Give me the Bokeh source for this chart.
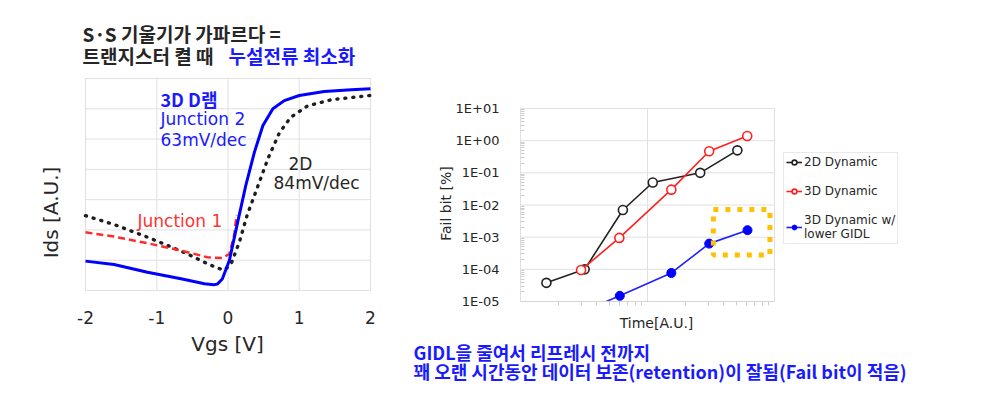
import math
from bokeh.plotting import figure
from bokeh.models import (Label, Legend, LegendItem, FixedTicker,
                          CustomJSTickFormatter, Range1d)
from bokeh.layouts import row
from bokeh.embed import file_html
from bokeh.resources import INLINE

# ---------------- left chart data (Ids vs Vgs, arbitrary units) ----------------
vgs_3d = [-2.0, -1.6, -1.13, -0.66, -0.33, -0.2, -0.15, -0.08, 0.02, 0.135, 0.25,
          0.37, 0.49, 0.63, 0.79, 1.0, 1.35, 1.73, 2.0]
ids_3d = [0.97, 0.86, 0.60, 0.39, 0.22, 0.19, 0.21, 0.38, 1.0, 2.25, 3.47,
          4.56, 5.45, 6.0, 6.27, 6.44, 6.57, 6.63, 6.66]

vgs_2d = [-2.0, -1.6, -1.13, -0.85, -0.57, -0.33, -0.15, -0.05, 0.04, 0.16, 0.27,
          0.42, 0.56, 0.72, 0.88, 1.12, 1.45, 2.0]
ids_2d = [2.47, 2.18, 1.76, 1.49, 1.21, 0.93, 0.74, 0.68, 0.86, 1.6, 2.5,
          3.45, 4.35, 5.2, 5.72, 6.1, 6.3, 6.44]

vgs_junction1 = [-2.0, -1.6, -1.13, -0.66, -0.29, -0.08, 0.02, 0.09, 0.12]
ids_junction1 = [1.92, 1.78, 1.56, 1.32, 1.1, 1.07, 1.21, 1.87, 2.5]

vgs_ticks = [-2, -1, 0, 1, 2]
vgs_tick_labels = ["-2", "-1", "0", "1", "2"]
ids_grid = [0, 1, 2, 3, 4, 5, 6, 7]

# ---------------- right chart data (Fail bit vs time) ----------------
time_2d = [1.6, 3.2, 6.4, 11.0, 26.0, 51.0]
fail_2d = [3.8e-5, 1.0e-4, 7.0e-3, 5.0e-2, 1.0e-1, 5.0e-1]

time_3d = [3.0, 6.0, 15.4, 30.6, 61.0]
fail_3d = [9.5e-5, 9.5e-4, 3.0e-2, 4.7e-1, 1.4]

time_3d_gidl = [3.0, 6.05, 15.4, 30.6, 61.3]
fail_3d_gidl = [4.6e-6, 1.5e-5, 7.7e-5, 6.3e-4, 1.65e-3]

fail_ticks = [1e-5, 1e-4, 1e-3, 1e-2, 1e-1, 1e0, 1e1]
fail_tick_labels = ["1E-05", "1E-04", "1E-03", "1E-02", "1E-01", "1E+00", "1E+01"]
time_ticks = [1, 10, 100]
legend_labels = ["2D Dynamic", "3D Dynamic", "3D Dynamic w/\nlower GIDL"]

highlight_time = [33.0, 92.0]
highlight_fail = [2.8e-4, 7.2e-3]

# ---------------- layout constants (page pixels) ----------------
KR = "Noto Sans CJK KR"
LAT = "DejaVu Sans"
BLUE_TXT = "#1a1aff"
DARK = "#262626"
GRID = "#e0e0e0"
EDGE = "#d4d4d4"

L_W, R_W, H = 405, 595, 400
L_ORIG = (0, 0)
R_ORIG = (L_W, 0)
# left chart area in page px
LX0, LX1, LY_TOP, LY_BOT = 85.0, 370.0, 78.0, 290.0
# right chart area in page px
RX0, RX1, RY_TOP, RY_BOT = 520.0, 774.0, 108.0, 301.0


def add_text(p, origin, x, y, text, size, color, font, bold=False,
             align="left", angle=0.0):
    p.add_layout(Label(x=x - origin[0], y=y - origin[1],
                       x_units="canvas", y_units="canvas",
                       text=text, text_font=font, text_font_size=f"{size}px",
                       text_color=color,
                       text_font_style="bold" if bold else "normal",
                       text_align=align, text_baseline="middle", angle=angle))


def base_fig(w, h, **kw):
    p = figure(frame_width=w, frame_height=h, min_border=0,
               min_border_left=0, min_border_right=0,
               min_border_top=0, min_border_bottom=0,
               output_backend="svg", toolbar_location=None,
               background_fill_color="white", border_fill_color="white",
               outline_line_color=None, **kw)
    p.grid.visible = False
    return p


# ================= left figure =================
sx = (LX1 - LX0) / (vgs_ticks[-1] - vgs_ticks[0])
sy = (LY_BOT - LY_TOP) / (ids_grid[-1] - ids_grid[0])
lx_range = Range1d(vgs_ticks[0] - (LX0 - L_ORIG[0]) / sx,
                   vgs_ticks[-1] + (L_ORIG[0] + L_W - LX1) / sx)
ly_range = Range1d(ids_grid[0] - (H - LY_BOT) / sy,
                   ids_grid[-1] + LY_TOP / sy)
pl = base_fig(L_W, H, x_range=lx_range, y_range=ly_range)
pl.yaxis.visible = False
pl.xaxis.fixed_location = ids_grid[0]
pl.xaxis.ticker = FixedTicker(ticks=vgs_ticks, minor_ticks=[])
pl.xaxis.formatter = CustomJSTickFormatter(
    args=dict(tick_values=vgs_ticks, tick_labels=vgs_tick_labels),
    code="""
    let best = 0, bd = 1e9;
    for (let i = 0; i < tick_values.length; i++) {
        const d = Math.abs(tick - tick_values[i]);
        if (d < bd) { bd = d; best = i; }
    }
    return tick_labels[best];
    """)
pl.xaxis.axis_line_color = None
pl.xaxis.major_tick_line_color = None
pl.xaxis.minor_tick_line_color = None
pl.xaxis.major_label_text_font = LAT
pl.xaxis.major_label_text_font_size = "17px"
pl.xaxis.major_label_text_color = DARK
pl.xaxis.major_label_standoff = 14

# grid of the left chart
pl.segment(x0=vgs_ticks[0], x1=vgs_ticks[-1], y0=ids_grid, y1=ids_grid,
           line_color=GRID, line_width=1)
pl.segment(x0=vgs_ticks, x1=vgs_ticks, y0=ids_grid[0], y1=ids_grid[-1],
           line_color=GRID, line_width=1)

pl.line(vgs_2d, ids_2d, line_color="#1e1e1e", line_width=3.4,
        line_dash="1 7", line_cap="round")
pl.line(vgs_junction1, ids_junction1, line_color="#ff2a2a", line_width=2.5,
        line_dash="7 4")
pl.line(vgs_3d, ids_3d, line_color="#0000ff", line_width=3)

add_text(pl, L_ORIG, 82, 33, "S·S 기울기가 가파르다 =", 19, DARK, KR, bold=True)
add_text(pl, L_ORIG, 82, 55, "트랜지스터 켤 때", 19, DARK, KR, bold=True)
add_text(pl, L_ORIG, 228, 55, "누설전류 최소화", 19, BLUE_TXT, KR, bold=True)
add_text(pl, L_ORIG, 160, 98, "3D D램", 18, BLUE_TXT, KR, bold=True)
add_text(pl, L_ORIG, 160, 118, "Junction 2", 17, BLUE_TXT, LAT)
add_text(pl, L_ORIG, 160, 139, "63mV/dec", 17, BLUE_TXT, LAT)
add_text(pl, L_ORIG, 288, 163, "2D", 17, DARK, LAT)
add_text(pl, L_ORIG, 273, 182, "84mV/dec", 17, DARK, LAT)
add_text(pl, L_ORIG, 137, 220, "Junction 1", 17, "#ff3333", LAT)
add_text(pl, L_ORIG, 50, 212, "Ids [A.U.]", 20, DARK, LAT, align="center",
         angle=math.pi / 2)
add_text(pl, L_ORIG, 227, 343, "Vgs [V]", 20, DARK, LAT, align="center")

# ================= right figure =================
lt0, lt1 = math.log10(time_ticks[0]), math.log10(time_ticks[-1])
lf0, lf1 = math.log10(fail_ticks[0]), math.log10(fail_ticks[-1])
dx = (RX1 - RX0) / (lt1 - lt0)
dy = (RY_BOT - RY_TOP) / (lf1 - lf0)
rx_range = Range1d(10 ** (lt0 - (RX0 - R_ORIG[0]) / dx),
                   10 ** (lt1 + (R_ORIG[0] + R_W - RX1) / dx))
ry_range = Range1d(10 ** (lf0 - (H - RY_BOT) / dy),
                   10 ** (lf1 + RY_TOP / dy))
pr = base_fig(R_W, H, x_axis_type="log", y_axis_type="log",
              x_range=rx_range, y_range=ry_range)

minor_y = [m * 10.0 ** e for e in range(-5, 1) for m in range(2, 10)]
minor_x = [m * 10.0 ** e for e in range(0, 2) for m in range(2, 10)]
pr.yaxis.fixed_location = time_ticks[0]
pr.xaxis.fixed_location = fail_ticks[0]
pr.yaxis.ticker = FixedTicker(ticks=fail_ticks, minor_ticks=minor_y)
pr.xaxis.ticker = FixedTicker(ticks=time_ticks, minor_ticks=minor_x)
pr.yaxis.formatter = CustomJSTickFormatter(
    args=dict(tick_values=fail_ticks, tick_labels=fail_tick_labels),
    code="""
    let best = 0, bd = 1e9;
    for (let i = 0; i < tick_values.length; i++) {
        const d = Math.abs(Math.log10(tick) - Math.log10(tick_values[i]));
        if (d < bd) { bd = d; best = i; }
    }
    return tick_labels[best];
    """)
pr.xaxis.formatter = CustomJSTickFormatter(code="return '';")
pr.yaxis.major_label_text_font = LAT
pr.yaxis.major_label_text_font_size = "13px"
pr.yaxis.major_label_text_color = DARK
pr.yaxis.major_label_standoff = 15
pr.yaxis.axis_line_color = None
pr.yaxis.major_tick_line_color = None
pr.yaxis.minor_tick_line_color = "#cfcfcf"
pr.yaxis.minor_tick_in = 4
pr.yaxis.minor_tick_out = 0
pr.xaxis.axis_line_color = None
pr.xaxis.major_tick_line_color = None
pr.xaxis.minor_tick_line_color = "#cfcfcf"
pr.xaxis.minor_tick_in = 0
pr.xaxis.minor_tick_out = 4

# grid of the right chart
pr.segment(x0=time_ticks[0], x1=time_ticks[-1], y0=fail_ticks, y1=fail_ticks,
           line_color=GRID, line_width=1)
pr.segment(x0=time_ticks, x1=time_ticks, y0=fail_ticks[0], y1=fail_ticks[-1],
           line_color=GRID, line_width=1)

l2d = pr.line(time_2d, fail_2d, line_color="#222222", line_width=1.6)
s2d = pr.scatter(time_2d, fail_2d, marker="circle", size=9, fill_color="white",
                 line_color="#222222", line_width=1.6)
l3d = pr.line(time_3d, fail_3d, line_color="#ff2020", line_width=1.6)
s3d = pr.scatter(time_3d, fail_3d, marker="circle", size=9, fill_color="white",
                 line_color="#ff2020", line_width=1.6)
lg = pr.line(time_3d_gidl, fail_3d_gidl, line_color="#2020ff", line_width=1.6)
sg = pr.scatter(time_3d_gidl, fail_3d_gidl, marker="circle", size=9,
                fill_color="#0000ff", line_color="#0000ff", line_width=1)

# white mask: the chart clips everything below its lowest decade
pr.quad(left=time_ticks[0], right=time_ticks[-1], bottom=ry_range.start,
        top=fail_ticks[0], fill_color="white", line_color=None)
pr.segment(x0=time_ticks[0], x1=time_ticks[-1], y0=fail_ticks[0],
           y1=fail_ticks[0], line_color=EDGE, line_width=1)

# highlight box
pr.quad(left=[highlight_time[0]], right=[highlight_time[1]],
        bottom=[highlight_fail[0]], top=[highlight_fail[1]],
        fill_color=None, line_color="#ffc000", line_width=5, line_dash="5 7")

legend = Legend(items=[
    LegendItem(label=legend_labels[0], renderers=[l2d, s2d]),
    LegendItem(label=legend_labels[1], renderers=[l3d, s3d]),
    LegendItem(label=legend_labels[2], renderers=[lg, sg]),
], location=(783 - R_ORIG[0], H - 244))
legend.label_text_font = LAT
legend.label_text_font_size = "12px"
legend.label_text_color = DARK
legend.label_text_line_height = 1.45
legend.label_height = 14
legend.label_standoff = 2
legend.glyph_width = 16
legend.glyph_height = 12
legend.spacing = 15
legend.padding = 2
legend.margin = 0
legend.border_line_color = EDGE
legend.background_fill_color = "white"
legend.background_fill_alpha = 1.0
pr.add_layout(legend)

add_text(pr, R_ORIG, 445, 203, "Fail bit [%]", 14, DARK, LAT, align="center",
         angle=math.pi / 2)
add_text(pr, R_ORIG, 656, 322, "Time[A.U.]", 14, DARK, LAT, align="center")
add_text(pr, R_ORIG, 413, 351, "GIDL을 줄여서 리프레시 전까지", 18, BLUE_TXT,
         KR, bold=True)
add_text(pr, R_ORIG, 413, 370,
         "꽤 오랜 시간동안 데이터 보존(retention)이 잘됨(Fail bit이 적음)", 18,
         BLUE_TXT, KR, bold=True)

layout = row(pl, pr)
open("out.html", "w").write(file_html(layout, INLINE))
